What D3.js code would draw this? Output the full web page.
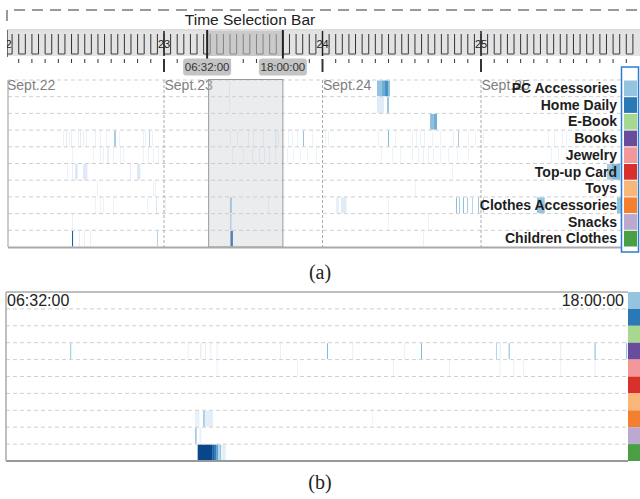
<!DOCTYPE html>
<html>
<head>
<meta charset="utf-8">
<script src="https://cdnjs.cloudflare.com/ajax/libs/d3/7.8.5/d3.min.js"></script>
<style>
body { margin: 0; background: #fff; }
svg { display: block; font-family: "Liberation Sans", Arial, sans-serif; }
</style>
</head>
<body>
<svg id="chart" width="640" height="499"></svg>
<script>
// category rows, top to bottom
const categories = ["PC Accessories", "Home Daily", "E-Book", "Books", "Jewelry",
    "Top-up Card", "Toys", "Clothes Accessories", "Snacks", "Children Clothes"];
const categoryColors = ["#94c4df", "#2a78b5", "#a6d890", "#6a4c9c", "#f4979a",
    "#d8302b", "#f8b679", "#f47f2e", "#bca9cf", "#4a9e44"];

const dayLabels = ["Sept.22", "Sept.23", "Sept.24", "Sept.25"];
const barDayLabels = ["22", "23", "24", "25"];
const timeRange = ["22 00:00", "26 00:00"];
const selectedRange = ["23 06:32", "23 18:00"];
const selectedLabels = ["06:32:00", "18:00:00"];
const detailRange = ["06:32", "18:00"];

// overview (a): [start "day hh:mm", minutes, intensity 0..1], one list per category
const pcAccessories = [["23 09:50", 9, 0.1], ["24 08:15", 45, 0.4], ["24 09:00", 28, 0.5], ["24 09:28", 27, 0.62], ["24 09:55", 18, 0.42]];
const homeDaily = [["23 09:50", 8, 0.06], ["24 08:15", 65, 0.12], ["24 09:50", 10, 0.6]];
const eBook = [["24 16:17", 30, 0.42], ["24 16:47", 33, 0.5]];
const books = [["22 08:42", 9, 0.07], ["22 09:10", 9, 0.09], ["22 09:37", 9, 0.07], ["22 09:55", 9, 0.08],
    ["22 10:59", 9, 0.08], ["22 11:17", 9, 0.1], ["22 11:44", 9, 0.08], ["22 12:11", 9, 0.07],
    ["22 13:33", 9, 0.08], ["22 14:19", 9, 0.07], ["22 15:13", 9, 0.06], ["22 16:26", 18, 0.35],
    ["22 17:11", 9, 0.06], ["22 20:49", 9, 0.08], ["22 21:07", 9, 0.07], ["22 21:44", 9, 0.3],
    ["22 22:11", 9, 0.07], ["23 09:59", 9, 0.08], ["23 11:03", 9, 0.08], ["23 12:43", 9, 0.08],
    ["23 13:29", 9, 0.08], ["23 14:59", 9, 0.08], ["23 16:49", 15, 0.1], ["23 17:16", 9, 0.08],
    ["23 18:47", 9, 0.06], ["23 19:23", 9, 0.06], ["23 20:08", 9, 0.06], ["23 21:03", 9, 0.4],
    ["23 22:25", 9, 0.06], ["24 00:23", 9, 0.06], ["24 00:50", 9, 0.07], ["24 08:24", 9, 0.06],
    ["24 09:55", 9, 0.45], ["24 10:59", 9, 0.06], ["24 13:33", 9, 0.07], ["24 14:10", 9, 0.07],
    ["24 14:46", 9, 0.08], ["24 15:22", 9, 0.07], ["24 16:35", 9, 0.06], ["24 17:47", 9, 0.06],
    ["24 19:46", 9, 0.08], ["24 20:31", 9, 0.35], ["24 22:02", 9, 0.06], ["24 23:05", 9, 0.06],
    ["25 00:18", 9, 0.06], ["25 10:09", 9, 0.06], ["25 11:03", 9, 0.07], ["25 12:16", 9, 0.06],
    ["25 12:52", 9, 0.06]];
const jewelry = [["22 10:04", 9, 0.06], ["22 13:15", 9, 0.06], ["22 14:19", 9, 0.08], ["22 14:46", 9, 0.07],
    ["22 15:22", 20, 0.08], ["22 16:17", 9, 0.07], ["22 17:20", 9, 0.06], ["22 17:47", 9, 0.06],
    ["22 20:49", 9, 0.06], ["22 21:35", 9, 0.07], ["22 22:20", 9, 0.06], ["22 23:05", 9, 0.07],
    ["22 23:42", 9, 0.06], ["23 10:18", 9, 0.06], ["23 11:58", 9, 0.06], ["23 13:20", 9, 0.08],
    ["23 14:23", 9, 0.08], ["23 15:08", 9, 0.1], ["23 15:54", 9, 0.08], ["23 16:49", 9, 0.08],
    ["23 18:37", 9, 0.06], ["23 19:32", 9, 0.06], ["23 20:35", 9, 0.06], ["23 21:39", 9, 0.06],
    ["23 23:01", 9, 0.06], ["24 08:52", 9, 0.06], ["24 10:31", 9, 0.06], ["24 11:44", 9, 0.06],
    ["24 13:33", 9, 0.07], ["24 14:28", 9, 0.07], ["24 15:13", 9, 0.08], ["24 15:59", 9, 0.07],
    ["24 16:44", 9, 0.07], ["24 17:47", 9, 0.06], ["24 19:00", 9, 0.06], ["24 20:22", 9, 0.06],
    ["24 22:02", 9, 0.06], ["25 10:36", 9, 0.06], ["25 11:40", 9, 0.06], ["25 12:52", 9, 0.06],
    ["25 17:43", 9, 0.06], ["25 18:37", 9, 0.06], ["25 19:50", 9, 0.06]];
const topUpCard = [["22 09:19", 9, 0.08], ["22 10:04", 9, 0.1], ["22 10:31", 25, 0.14], ["22 11:44", 40, 0.13],
    ["22 18:51", 9, 0.1], ["22 19:55", 30, 0.14], ["24 19:37", 9, 0.07], ["25 19:05", 40, 0.35],
    ["25 19:45", 80, 0.45]];
const toys = [["22 13:51", 9, 0.07], ["22 22:20", 9, 0.07], ["22 22:38", 9, 0.06], ["24 14:00", 9, 0.06]];
const clothesAccessories = [["22 13:33", 9, 0.06], ["22 14:19", 9, 0.06], ["22 14:46", 9, 0.06],
    ["22 16:17", 9, 0.06], ["22 21:26", 9, 0.07], ["22 22:47", 9, 0.15], ["23 00:09", 9, 0.07],
    ["23 09:59", 18, 0.4], ["23 15:45", 9, 0.07], ["24 02:02", 30, 0.08], ["24 02:48", 50, 0.12],
    ["24 09:55", 9, 0.07], ["24 20:13", 9, 0.42], ["24 20:40", 9, 0.35], ["24 21:16", 9, 0.42],
    ["24 21:53", 9, 0.35], ["24 22:38", 9, 0.3], ["24 23:33", 9, 0.38], ["25 00:18", 9, 0.35],
    ["25 08:29", 70, 0.4], ["25 20:35", 60, 0.4]];
const snacks = [["22 10:04", 9, 0.07], ["23 09:59", 15, 0.3], ["24 09:55", 9, 0.06], ["24 15:59", 9, 0.06],
    ["25 21:03", 9, 0.1]];
const childrenClothes = [["22 10:04", 10, 0.8], ["22 11:08", 8, 0.1], ["22 11:53", 8, 0.08],
    ["22 12:48", 8, 0.08], ["22 22:56", 10, 0.3], ["23 10:04", 22, 0.85], ["24 15:13", 9, 0.07]];

// detail (b): [start "hh:mm", minutes, intensity] for Sept 23, 06:32 - 18:00
const booksDetail = [["07:43", 1, 0.4], ["09:53", 1, 0.07], ["10:07", 1, 0.15], ["10:12", 1, 0.08],
    ["10:18", 1, 0.1], ["10:25", 1, 0.08], ["11:35", 1, 0.07], ["12:27", 1, 0.45], ["12:55", 1, 0.08],
    ["13:52", 1, 0.08], ["14:11", 1, 0.45], ["15:34", 1, 0.3], ["15:38", 1, 0.12], ["15:48", 1, 0.45],
    ["16:45", 1, 0.12], ["17:23", 1, 0.45], ["17:58", 1, 0.45]];
const jewelryDetail = [["10:25", 1, 0.07], ["11:54", 1, 0.07], ["13:40", 1, 0.07], ["14:42", 1, 0.07],
    ["15:38", 1, 0.07], ["15:53", 1, 0.07], ["16:04", 1, 0.07], ["16:45", 1, 0.07], ["17:23", 1, 0.07]];
const clothesDetail = [["10:01", 5, 0.08], ["10:10", 2, 0.35], ["10:12", 9, 0.1], ["13:17", 1, 0.06]];
const snacksDetail = [["10:01", 2, 0.35], ["10:06", 2, 0.08]];
const childrenDetail = [["10:04", 16, 0.92], ["10:20", 3, 0.8], ["10:23", 2, 0.7], ["10:25", 2, 0.55],
    ["10:28", 2, 0.4], ["10:31", 4, 0.1]];

const overviewEvents = [pcAccessories, homeDaily, eBook, books, jewelry, topUpCard, toys,
    clothesAccessories, snacks, childrenClothes];
const detailEvents = [[], [], [], booksDetail, jewelryDetail, [], [], clothesDetail, snacksDetail, childrenDetail];

const svg = d3.select("#chart");
const parseDay = d3.timeParse("%d %H:%M");
const parseTime = d3.timeParse("%H:%M");
const shade = d3.scaleSequential(d3.interpolateBlues).domain([0, 1]);

const xA = d3.scaleTime().domain(timeRange.map(parseDay)).range([5.5, 639.5]);
const xB = d3.scaleTime().domain(detailRange.map(parseTime)).range([6, 628]);

const A = {top: 80, rowH: 16.7, left: 8, right: 621};
const B = {top: 292, rowH: 16.9, left: 6, right: 628};
const yA = d3.scaleBand().domain(categories).range([A.top, A.top + A.rowH * 10]);
const yB = d3.scaleBand().domain(categories).range([B.top, B.top + B.rowH * 10]);

const defs = svg.append("defs");
defs.append("clipPath").attr("id", "clipBar")
    .append("rect").attr("x", 7).attr("y", 0).attr("width", 633).attr("height", 80);
defs.append("clipPath").attr("id", "clipA")
    .append("rect").attr("x", A.left).attr("y", A.top).attr("width", A.right - A.left).attr("height", A.rowH * 10);

// outer dashed frame
svg.append("path")
    .attr("d", "M7,21 V10 H640")
    .attr("fill", "none").attr("stroke", "#9a9a9a").attr("stroke-width", 2)
    .attr("stroke-dasharray", "11,7");
svg.append("text").attr("x", 250).attr("y", 25).attr("text-anchor", "middle")
    .attr("font-size", 15.5).attr("fill", "#222").text("Time Selection Bar");

// ---- time selection bar ----
var drawTimeBar = function() {
    const g = svg.append("g").attr("clip-path", "url(#clipBar)");
    const hours = d3.timeHour.range(xA.domain()[0], xA.domain()[1]);
    const days = d3.timeDay.range(xA.domain()[0], xA.domain()[1]);

    g.append("line").attr("x1", 7).attr("x2", 640).attr("y1", 30).attr("y2", 30)
        .attr("stroke", "#bbb");
    g.append("rect").attr("x", 7).attr("y", 31).attr("width", 633).attr("height", 25)
        .attr("fill", "#e3e3e3");
    g.append("line").attr("x1", 7).attr("x2", 7).attr("y1", 30).attr("y2", 57)
        .attr("stroke", "#444").attr("stroke-width", 1.5);

    // hour comb
    g.selectAll(".hr").data(hours).enter().append("line")
        .attr("x1", d => xA(d)).attr("x2", d => xA(d))
        .attr("y1", 34).attr("y2", 54)
        .attr("stroke", "#333").attr("stroke-width", 1);
    g.selectAll(".hb").data(hours.filter((d, i) => i % 2 === 0)).enter().append("line")
        .attr("x1", d => xA(d)).attr("x2", d => xA(d3.timeHour.offset(d, 1)))
        .attr("y1", 54).attr("y2", 54)
        .attr("stroke", "#444").attr("stroke-width", 1);

    // day marks and numbers
    g.selectAll(".dl").data(days).enter().append("line")
        .attr("x1", d => xA(d)).attr("x2", d => xA(d))
        .attr("y1", 31).attr("y2", 56)
        .attr("stroke", "#222").attr("stroke-width", 1.5);
    g.selectAll(".dt").data(days).enter().append("text")
        .attr("x", d => xA(d)).attr("y", 48)
        .attr("text-anchor", "middle").attr("font-size", 11).attr("fill", "#222")
        .text((d, i) => barDayLabels[i]);

    // two-hour ticks underneath
    g.selectAll(".tk").data(hours.filter((d, i) => i % 2 === 0)).enter().append("line")
        .attr("x1", d => xA(d)).attr("x2", d => xA(d))
        .attr("y1", 59).attr("y2", d => d.getHours() === 0 ? 72 : 63)
        .attr("stroke", "#333").attr("stroke-width", d => d.getHours() === 0 ? 2 : 1);

    // brush
    const s0 = xA(parseDay(selectedRange[0])), s1 = xA(parseDay(selectedRange[1]));
    g.append("rect").attr("x", s0).attr("y", 31).attr("width", s1 - s0).attr("height", 25)
        .attr("fill", "#b9b9b9").attr("opacity", 0.6);
    [s0, s1].forEach(function(x) {
        g.append("line").attr("x1", x).attr("x2", x).attr("y1", 30).attr("y2", 62)
            .attr("stroke", "#222").attr("stroke-width", 2);
    });
    [s0, s1].forEach(function(x, i) {
        svg.append("rect").attr("x", x - 24).attr("y", 58.5).attr("width", 48).attr("height", 17)
            .attr("rx", 3).attr("fill", "#c4c4c4");
        svg.append("text").attr("x", x).attr("y", 71).attr("text-anchor", "middle")
            .attr("font-size", 11.5).attr("fill", "#333").text(selectedLabels[i]);
    });
};

// ---- overview panel (a) ----
var drawOverview = function() {
    const g = svg.append("g");
    const cells = g.append("g").attr("clip-path", "url(#clipA)");

    overviewEvents.forEach(function(list, r) {
        cells.selectAll(null).data(list).enter().append("rect")
            .attr("x", d => xA(parseDay(d[0])))
            .attr("y", yA(categories[r]) + 0.5)
            .attr("width", d => Math.max(1, xA(d3.timeMinute.offset(parseDay(d[0]), d[1])) - xA(parseDay(d[0]))))
            .attr("height", yA.bandwidth() - 1)
            .attr("fill", d => shade(d[2]));
    });

    // row separators
    g.selectAll(".row").data(d3.range(10)).enter().append("line")
        .attr("x1", A.left).attr("x2", A.right)
        .attr("y1", i => A.top + i * A.rowH).attr("y2", i => A.top + i * A.rowH)
        .attr("stroke", "#cfcfcf").attr("stroke-dasharray", "4,3");

    // day dividers and labels
    const days = d3.timeDay.range(xA.domain()[0], xA.domain()[1]);
    g.selectAll(".day").data(days.slice(1)).enter().append("line")
        .attr("x1", d => xA(d)).attr("x2", d => xA(d))
        .attr("y1", A.top).attr("y2", A.top + A.rowH * 10)
        .attr("stroke", "#aaa").attr("stroke-dasharray", "3,2");
    g.selectAll(".dayt").data(days).enter().append("text")
        .attr("x", d => Math.max(7, xA(d) + 0.5)).attr("y", 90)
        .attr("font-size", 14).attr("fill", "#808080")
        .text((d, i) => dayLabels[i]);

    // selected window
    const s0 = xA(parseDay(selectedRange[0])), s1 = xA(parseDay(selectedRange[1]));
    g.append("rect").attr("x", s0 + 1.5).attr("y", A.top - 0.5)
        .attr("width", s1 - s0 - 1.5).attr("height", A.rowH * 10 + 0.5)
        .attr("fill", "#c6c9d0").attr("fill-opacity", 0.36)
        .attr("stroke", "#999").attr("stroke-width", 1);

    // frame
    g.append("line").attr("x1", A.left).attr("x2", A.left)
        .attr("y1", A.top).attr("y2", A.top + A.rowH * 10)
        .attr("stroke", "#9a9a9a");
    g.append("line").attr("x1", A.left).attr("x2", A.right)
        .attr("y1", A.top + A.rowH * 10 + 0.5).attr("y2", A.top + A.rowH * 10 + 0.5)
        .attr("stroke", "#aaa").attr("stroke-width", 2);

    // category names
    g.selectAll(".cat").data(categories).enter().append("text")
        .attr("x", 617).attr("y", d => yA(d) + 13)
        .attr("text-anchor", "end").attr("font-size", 14).attr("font-weight", "bold")
        .attr("fill", "#1e1e1e").text(d => d);

    // colour key
    g.selectAll(".key").data(categories).enter().append("rect")
        .attr("x", 624).attr("y", d => yA(d) + 0.5)
        .attr("width", 13).attr("height", yA.bandwidth() - 1)
        .attr("fill", (d, i) => categoryColors[i]);
    g.append("rect").attr("x", 621.5).attr("y", 67).attr("width", 17).attr("height", 185)
        .attr("fill", "none").attr("stroke", "#2b7dd3").attr("stroke-width", 1.5);
};

// ---- detail panel (b) ----
var drawDetail = function() {
    const g = svg.append("g");
    const bottom = B.top + B.rowH * 10;

    detailEvents.forEach(function(list, r) {
        g.selectAll(null).data(list).enter().append("rect")
            .attr("x", d => xB(parseTime(d[0])))
            .attr("y", yB(categories[r]) + 0.5)
            .attr("width", d => Math.max(1, xB(d3.timeMinute.offset(parseTime(d[0]), d[1])) - xB(parseTime(d[0]))))
            .attr("height", yB.bandwidth() - 1)
            .attr("fill", d => shade(d[2]));
    });

    g.selectAll(".row").data(d3.range(1, 10)).enter().append("line")
        .attr("x1", B.left).attr("x2", B.right)
        .attr("y1", i => B.top + i * B.rowH).attr("y2", i => B.top + i * B.rowH)
        .attr("stroke", "#cfcfcf").attr("stroke-dasharray", "4,3");

    g.append("line").attr("x1", B.left).attr("x2", B.right).attr("y1", B.top).attr("y2", B.top)
        .attr("stroke", "#aaa").attr("stroke-width", 1.5);
    g.append("line").attr("x1", B.left).attr("x2", B.right).attr("y1", bottom).attr("y2", bottom)
        .attr("stroke", "#999").attr("stroke-width", 2);
    g.append("line").attr("x1", B.left).attr("x2", B.left).attr("y1", B.top).attr("y2", bottom)
        .attr("stroke", "#aaa").attr("stroke-width", 1.5);

    g.append("text").attr("x", 7).attr("y", 306).attr("font-size", 16).attr("fill", "#222")
        .text(selectedLabels[0]);
    g.append("text").attr("x", 624).attr("y", 306).attr("text-anchor", "end")
        .attr("font-size", 16).attr("fill", "#222").text(selectedLabels[1]);

    g.selectAll(".key").data(categories).enter().append("rect")
        .attr("x", B.right).attr("y", d => yB(d))
        .attr("width", 12).attr("height", yB.bandwidth())
        .attr("fill", (d, i) => categoryColors[i]);
};

drawTimeBar();
drawOverview();
drawDetail();

// captions
svg.append("text").attr("x", 320).attr("y", 279).attr("text-anchor", "middle")
    .attr("font-family", "'Liberation Serif', 'Times New Roman', serif")
    .attr("font-size", 20).attr("fill", "#222").text("(a)");
svg.append("text").attr("x", 320).attr("y", 489).attr("text-anchor", "middle")
    .attr("font-family", "'Liberation Serif', 'Times New Roman', serif")
    .attr("font-size", 20).attr("fill", "#222").text("(b)");
</script>
</body>
</html>
